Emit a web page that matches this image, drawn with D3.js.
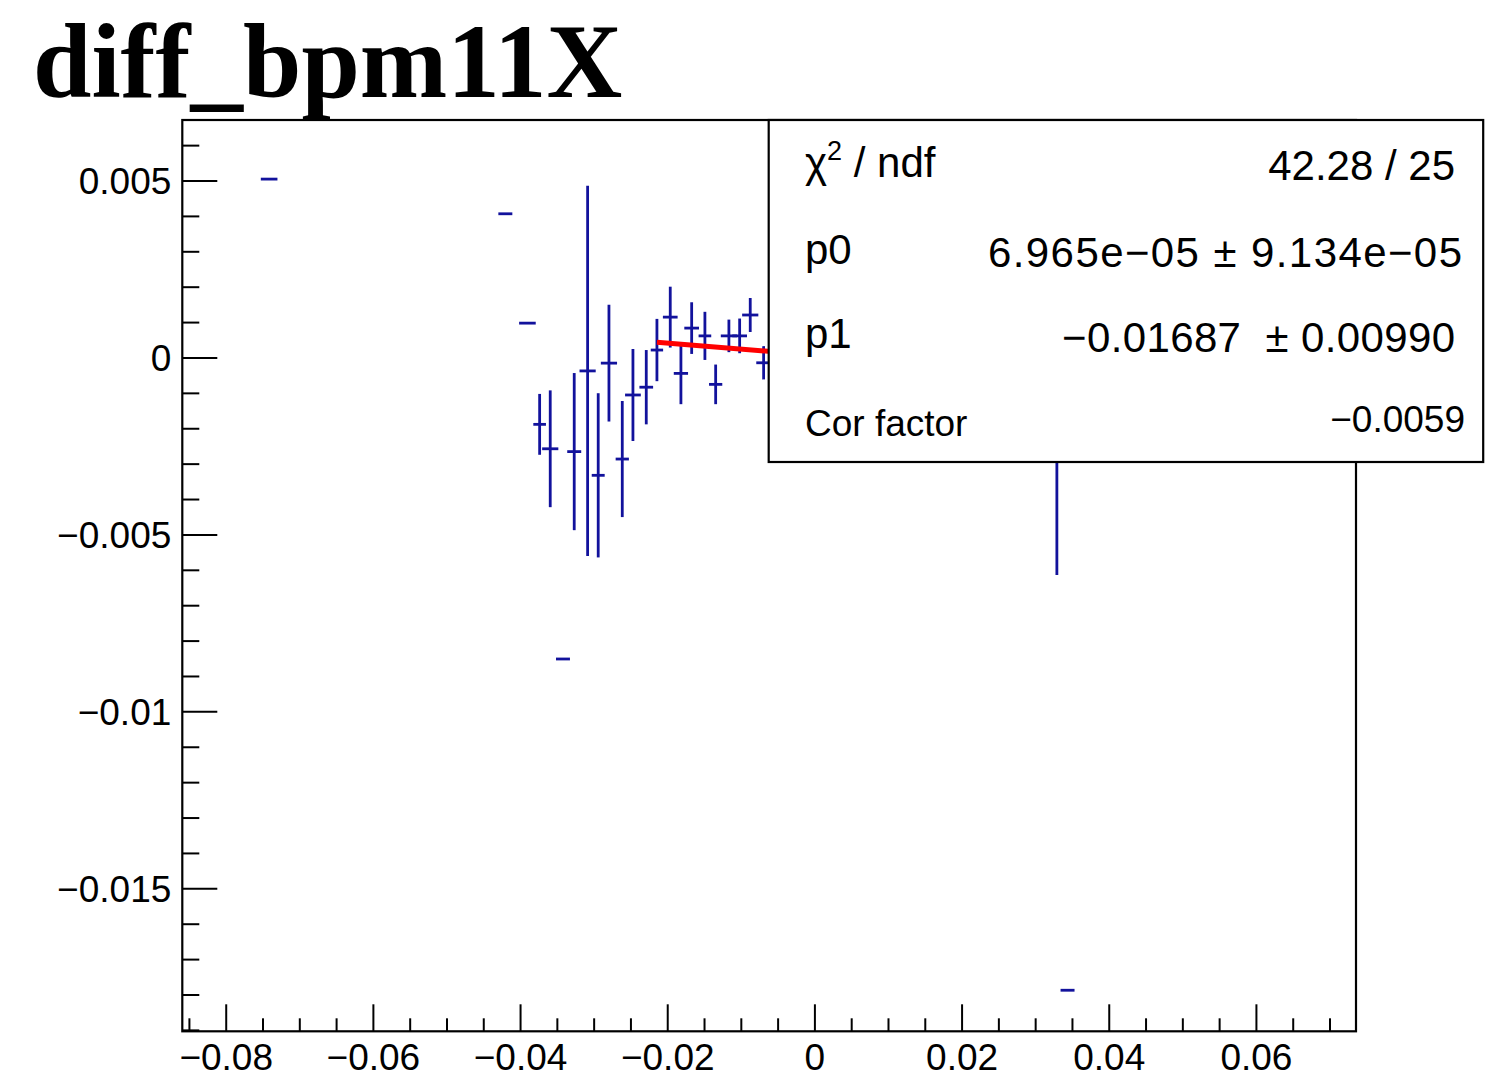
<!DOCTYPE html>
<html>
<head>
<meta charset="utf-8">
<script src="https://cdn.jsdelivr.net/npm/d3@7"></script>
<style>
  html, body { margin: 0; padding: 0; background: #ffffff; }
  svg { display: block; }
  text { white-space: pre; }
</style>
</head>
<body>
<script>
// ---------------- data ----------------
const titleText = "diff_bpm11X";

const pointX = [-0.0741, -0.0420, -0.0390, -0.03734, -0.03590, -0.03417, -0.03264, -0.03082, -0.02938, -0.02792,
                -0.02611, -0.02466, -0.02285, -0.02140, -0.01959, -0.01814, -0.01668, -0.01488, -0.01342, -0.01162,
                -0.01016, -0.00872, -0.00690, 0.03295, 0.03440];
const pointY = [0.00504, 0.00406, 0.00097, -0.00189, -0.00258, -0.00852, -0.00266, -0.00038, -0.00333, -0.00016,
                -0.00287, -0.00106, -0.00084, 0.00021, 0.00114, -0.00045, 0.00083, 0.00061, -0.00076, 0.00061,
                0.00061, 0.00120, -0.00015, -0.00150, -0.01788];
const errX   = [0.00113, 0.00095, 0.00113, 0.00086, 0.00110, 0.00095, 0.00095, 0.00110, 0.00088, 0.00110,
                0.00090, 0.00107, 0.00093, 0.00084, 0.00100, 0.00097, 0.00100, 0.00086, 0.00090, 0.00110,
                0.00100, 0.00110, 0.00100, 0.00100, 0.00095];
const errY   = [0, 0, 0, 0.00086, 0.00165, 0, 0.00222, 0.00523, 0.00232, 0.00165,
                0.00164, 0.00130, 0.00105, 0.00088, 0.00086, 0.00087, 0.00073, 0.00068, 0.00056, 0.00046,
                0.00049, 0.00048, 0.00047, 0.00465, 0];

// linear fit: p0 + p1*x over fit range
const fitP0 = 6.965e-05;
const fitP1 = -0.01687;
const fitRange = [-0.0214, 0.0330];

const xDomain = [-0.0859, 0.0736];
const yDomain = [-0.01904, 0.00671];

const xMajorTicks = [-0.08, -0.06, -0.04, -0.02, 0, 0.02, 0.04, 0.06];
const xTickLabels = ["\u22120.08", "\u22120.06", "\u22120.04", "\u22120.02", "0", "0.02", "0.04", "0.06"];
const xMinorTicks = [-0.085, -0.075, -0.07, -0.065, -0.055, -0.05, -0.045, -0.035, -0.03, -0.025,
                     -0.015, -0.01, -0.005, 0.005, 0.01, 0.015, 0.025, 0.03, 0.035, 0.045, 0.05, 0.055, 0.065, 0.07];
const yMajorTicks = [-0.015, -0.01, -0.005, 0, 0.005];
const yTickLabels = ["\u22120.015", "\u22120.01", "\u22120.005", "0", "0.005"];
const yMinorTicks = [-0.019, -0.018, -0.017, -0.016, -0.014, -0.013, -0.012, -0.011, -0.009, -0.008, -0.007, -0.006,
                     -0.004, -0.003, -0.002, -0.001, 0.001, 0.002, 0.003, 0.004, 0.006];

const statLabels = ["\u03c7", "p0", "p1", "Cor factor"];
const statValues = ["42.28 / 25", "6.965e\u221205 \u00b1 9.134e\u221205", "\u22120.01687  \u00b1 0.00990", "\u22120.0059"];

// ---------------- layout ----------------
const W = 1485, H = 1090;
const frame = { left: 182.3, right: 1356, top: 120, bottom: 1031.3 };
const statBox = { x: 768.7, y: 120, w: 714.5, h: 342 };
const ptColor = "#12129c";
const sansFont = "'Liberation Sans', Arial, Helvetica, sans-serif";

const svg = d3.select("body").append("svg").attr("width", W).attr("height", H);
svg.append("rect").attr("width", W).attr("height", H).attr("fill", "#fff");

const x = d3.scaleLinear().domain(xDomain).range([frame.left, frame.right]);
const y = d3.scaleLinear().domain(yDomain).range([frame.bottom, frame.top]);

// title
svg.append("text")
  .attr("x", 33).attr("y", 97)
  .attr("font-family", "'Liberation Serif', 'Times New Roman', serif")
  .attr("font-weight", "bold").attr("font-size", 105)
  .attr("fill", "#000").text(titleText);

// points
const pts = pointX.map((d, i) => ({ x: d, y: pointY[i], ex: errX[i], ey: errY[i] }));
const g = svg.append("g");
g.selectAll("line.h").data(pts).join("line").attr("class", "h")
  .attr("x1", d => x(d.x - d.ex)).attr("x2", d => x(d.x + d.ex))
  .attr("y1", d => y(d.y)).attr("y2", d => y(d.y))
  .attr("stroke", ptColor).attr("stroke-width", 2.8);
g.selectAll("line.v").data(pts.filter(d => d.ey > 0)).join("line").attr("class", "v")
  .attr("x1", d => x(d.x)).attr("x2", d => x(d.x))
  .attr("y1", d => y(d.y - d.ey)).attr("y2", d => y(d.y + d.ey))
  .attr("stroke", ptColor).attr("stroke-width", 2.8);

// fit line
const fitLine = d3.line().x(d => x(d)).y(d => y(fitP0 + fitP1 * d));
svg.append("path").datum(fitRange).attr("d", fitLine)
  .attr("fill", "none").attr("stroke", "#ff0000").attr("stroke-width", 5);

// frame
svg.append("rect")
  .attr("x", frame.left).attr("y", frame.top)
  .attr("width", frame.right - frame.left).attr("height", frame.bottom - frame.top)
  .attr("fill", "none").attr("stroke", "#000").attr("stroke-width", 2.2);

// axes
function styleAxis(sel) {
  sel.select(".domain").remove();
  sel.selectAll(".tick line").attr("stroke", "#000").attr("stroke-width", 2);
  sel.selectAll(".tick text").attr("font-family", sansFont).attr("font-size", 37).attr("fill", "#000");
}
const xAxisMajor = d3.axisBottom(x).tickValues(xMajorTicks).tickSize(-27).tickPadding(12)
  .tickFormat((d, i) => xTickLabels[i]);
const xAxisMinor = d3.axisBottom(x).tickValues(xMinorTicks).tickSize(-13).tickFormat("");
svg.append("g").attr("transform", `translate(0,${frame.bottom})`).call(xAxisMinor).call(styleAxis);
svg.append("g").attr("transform", `translate(0,${frame.bottom})`).call(xAxisMajor).call(styleAxis);

const yAxisMajor = d3.axisLeft(y).tickValues(yMajorTicks).tickSize(-35).tickPadding(11)
  .tickFormat((d, i) => yTickLabels[i]);
const yAxisMinor = d3.axisLeft(y).tickValues(yMinorTicks).tickSize(-17).tickFormat("");
svg.append("g").attr("transform", `translate(${frame.left},0)`).call(yAxisMinor).call(styleAxis);
const yg = svg.append("g").attr("transform", `translate(${frame.left},0)`).call(yAxisMajor).call(styleAxis);
yg.selectAll(".tick text").attr("dy", "0.36em");

// stats box
svg.append("rect")
  .attr("x", statBox.x).attr("y", statBox.y).attr("width", statBox.w).attr("height", statBox.h)
  .attr("fill", "#fff").attr("stroke", "#000").attr("stroke-width", 2.2);

const labelBase = [177, 264, 348, 436];
const valueBase = [180, 267, 352, 432];
const valueRight = [1455, 1462, 1455, 1465];
const rowSize = [42, 42, 42, 37];
const valueSpan = [null, 474, 393, null];

statLabels.forEach((lab, i) => {
  const t = svg.append("text")
    .attr("x", 805).attr("y", labelBase[i])
    .attr("font-family", sansFont).attr("font-size", rowSize[i]).attr("fill", "#000");
  if (i === 0) {
    t.append("tspan").text(lab);
    t.append("tspan").attr("font-size", 27).attr("dy", -17).text("2");
    t.append("tspan").attr("dy", 17).text(" / ndf");
  } else {
    t.text(lab);
  }
});
statValues.forEach((val, i) => {
  const t = svg.append("text")
    .attr("y", valueBase[i])
    .attr("font-family", sansFont).attr("font-size", rowSize[i]).attr("fill", "#000")
    .text(val);
  if (valueSpan[i]) {
    t.attr("x", valueRight[i] - valueSpan[i]).attr("textLength", valueSpan[i]).attr("lengthAdjust", "spacing");
  } else {
    t.attr("x", valueRight[i]).attr("text-anchor", "end");
  }
});
</script>
</body>
</html>
